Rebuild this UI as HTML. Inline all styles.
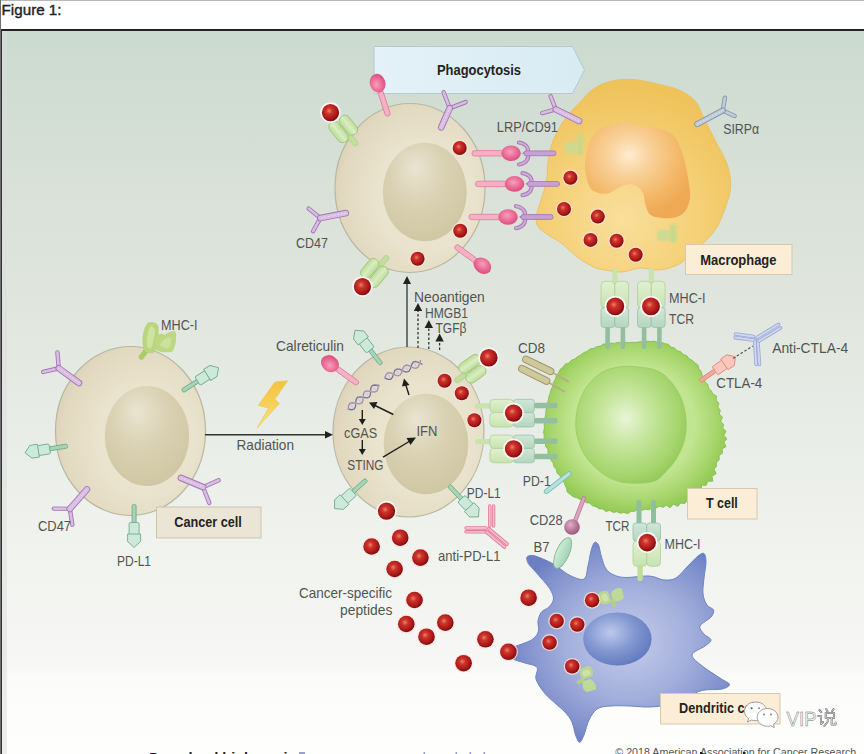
<!DOCTYPE html>
<html><head><meta charset="utf-8">
<style>
html,body{margin:0;padding:0;background:#fff;width:864px;height:754px;overflow:hidden;}
svg{display:block;font-family:"Liberation Sans",sans-serif;}
.t{font-size:14.3px;fill:#505553;}
.b{font-size:14.5px;font-weight:bold;fill:#24231f;}
</style></head>
<body>
<svg width="864" height="754" viewBox="0 0 864 754">
<defs>
<linearGradient id="bg" x1="0" y1="0" x2="0" y2="1">
<stop offset="0" stop-color="#cbdacf"/>
<stop offset="0.165" stop-color="#d6dfd6"/>
<stop offset="0.441" stop-color="#e3e8e1"/>
<stop offset="0.51" stop-color="#e6ebe5"/>
<stop offset="0.73" stop-color="#f1f3ef"/>
<stop offset="0.856" stop-color="#f6f7f4"/>
<stop offset="0.884" stop-color="#f8f8f6"/>
<stop offset="0.891" stop-color="#fbfbf9"/>
<stop offset="0.932" stop-color="#fdfdfc"/>
<stop offset="1" stop-color="#fefefd"/>
</linearGradient>
<radialGradient id="cellG" cx="0.6" cy="0.55" r="0.62">
<stop offset="0" stop-color="#efe9d7"/>
<stop offset="0.55" stop-color="#e9e2cc"/>
<stop offset="0.9" stop-color="#e1d8bf"/>
<stop offset="1" stop-color="#dcd2b8"/>
</radialGradient>
<radialGradient id="nucG" cx="0.45" cy="0.35" r="0.75" fx="0.38" fy="0.25">
<stop offset="0" stop-color="#e9e4d2"/>
<stop offset="0.45" stop-color="#d9d1b2"/>
<stop offset="1" stop-color="#cdc4a0"/>
</radialGradient>
<radialGradient id="macG" cx="0.45" cy="0.72" r="0.7">
<stop offset="0" stop-color="#f9df9c"/>
<stop offset="0.55" stop-color="#f5d077"/>
<stop offset="1" stop-color="#efc25a"/>
</radialGradient>
<radialGradient id="macN" cx="0.42" cy="0.34" r="0.66">
<stop offset="0" stop-color="#feeccf"/>
<stop offset="0.3" stop-color="#f9d29c"/>
<stop offset="0.7" stop-color="#f4b96a"/>
<stop offset="1" stop-color="#efa853"/>
</radialGradient>
<radialGradient id="tG" cx="0.49" cy="0.48" r="0.52">
<stop offset="0" stop-color="#c6e69a"/>
<stop offset="0.64" stop-color="#c2e592"/>
<stop offset="0.86" stop-color="#a8d66d"/>
<stop offset="1" stop-color="#94ca55"/>
</radialGradient>
<radialGradient id="tN" cx="0.45" cy="0.45" r="0.6">
<stop offset="0" stop-color="#e8f5d8"/>
<stop offset="0.35" stop-color="#c8e7a0"/>
<stop offset="0.8" stop-color="#a6d56e"/>
<stop offset="1" stop-color="#93c858"/>
</radialGradient>
<radialGradient id="dG" cx="0.55" cy="0.5" r="0.55">
<stop offset="0" stop-color="#c6cdea"/>
<stop offset="0.5" stop-color="#a3afdc"/>
<stop offset="0.85" stop-color="#8090cc"/>
<stop offset="1" stop-color="#6b7fc2"/>
</radialGradient>
<radialGradient id="dN" cx="0.4" cy="0.38" r="0.68">
<stop offset="0" stop-color="#bcc8ec"/>
<stop offset="0.55" stop-color="#8095d0"/>
<stop offset="1" stop-color="#5f77bd"/>
</radialGradient>
<radialGradient id="red" cx="0.42" cy="0.4" r="0.6">
<stop offset="0" stop-color="#ee8068"/>
<stop offset="0.3" stop-color="#cc342c"/>
<stop offset="0.75" stop-color="#aa1818"/>
<stop offset="1" stop-color="#800c0c"/>
</radialGradient>
<radialGradient id="pinkG" cx="0.45" cy="0.4" r="0.6">
<stop offset="0" stop-color="#f6a0be"/>
<stop offset="0.6" stop-color="#ea6a96"/>
<stop offset="1" stop-color="#d9507e"/>
</radialGradient>
<linearGradient id="mhcG" x1="0" y1="0" x2="0" y2="1">
<stop offset="0" stop-color="#e0f0d0"/><stop offset="1" stop-color="#c8e3b0"/></linearGradient>
<linearGradient id="tcrG" x1="0" y1="0" x2="0" y2="1">
<stop offset="0" stop-color="#d0e7d8"/><stop offset="1" stop-color="#b4d6c0"/></linearGradient>
<linearGradient id="boltG" x1="0" y1="0" x2="0" y2="1">
<stop offset="0" stop-color="#f4c23a"/><stop offset="0.5" stop-color="#f7cf50"/><stop offset="1" stop-color="#f8e690"/></linearGradient>
<radialGradient id="cd28G" cx="0.4" cy="0.35" r="0.65">
<stop offset="0" stop-color="#e0b0c8"/><stop offset="0.6" stop-color="#b87898"/><stop offset="1" stop-color="#9a5a7c"/></radialGradient>
<linearGradient id="b7G" x1="0" y1="0" x2="0" y2="1">
<stop offset="0" stop-color="#d0ecd8"/><stop offset="1" stop-color="#a2d2b4"/></linearGradient>
<linearGradient id="phG" x1="0" y1="0" x2="1" y2="0">
<stop offset="0" stop-color="#e4f1f8"/><stop offset="1" stop-color="#d8ebf3"/></linearGradient>
<linearGradient id="mhcL" x1="0" y1="0" x2="0" y2="1">
<stop offset="0" stop-color="#bedb98"/><stop offset="0.5" stop-color="#d9edc2"/><stop offset="1" stop-color="#bedb98"/></linearGradient>
<filter id="blur05"><feGaussianBlur stdDeviation="0.5"/></filter>
<filter id="blur1"><feGaussianBlur stdDeviation="0.8"/></filter>
</defs>

<rect x="0" y="0" width="864" height="754" fill="#fff"/>
<rect x="0" y="0" width="864" height="1" fill="#b8b8b8"/>
<text x="1.6" y="15.2" font-size="15.2" fill="#1e1e1e" stroke="#1e1e1e" stroke-width="0.4">Figure 1:</text>
<rect x="0" y="31" width="864" height="723" fill="url(#bg)"/>
<rect x="2" y="31" width="5" height="723" fill="#dcdedb" opacity="0.5"/>
<rect x="0" y="29" width="864" height="2" fill="#222"/>
<rect x="0" y="0" width="1" height="754" fill="#6e6e6e"/>
<rect x="1" y="29" width="1" height="725" fill="#333"/>
<!-- banner -->
<path d="M374 46.5 L572.5 46.5 L584.5 70 L572.5 93.5 L374 93.5 Z" fill="url(#phG)" stroke="#b8c8ce" stroke-width="1"/>
<text x="437" y="74.6" class="b" textLength="84" lengthAdjust="spacingAndGlyphs">Phagocytosis</text>
<!-- ===== Upper cancer cell ===== -->
<ellipse cx="410" cy="188" rx="75" ry="84.5" fill="url(#cellG)" stroke="#b9b7a0" stroke-width="1.2"/>
<ellipse cx="424.8" cy="192" rx="42" ry="49.3" fill="url(#nucG)"/>
<!-- ===== Center cancer cell ===== -->
<ellipse cx="408.5" cy="432" rx="75.5" ry="85" fill="url(#cellG)" stroke="#b9b7a0" stroke-width="1.2"/>
<ellipse cx="426" cy="444" rx="42.3" ry="50.3" fill="url(#nucG)"/>
<!-- ===== Left cancer cell ===== -->
<ellipse cx="130.5" cy="431" rx="75" ry="84.5" fill="url(#cellG)" stroke="#b9b7a0" stroke-width="1.2"/>
<ellipse cx="147" cy="436" rx="42.2" ry="50" fill="url(#nucG)"/>

<!-- ===== Macrophage ===== -->
<path d="M577.8 104.6 C581.5 100.9 587.9 92.7 593.7 88.7 C599.5 84.7 605.9 82.2 612.8 80.7 C619.7 79.2 627.6 79.2 635.0 79.7 C642.4 80.2 649.9 82.2 657.3 83.9 C664.7 85.7 673.2 87.3 679.6 90.2 C686.0 93.1 691.5 96.9 695.5 101.4 C699.5 105.9 700.3 110.9 703.5 117.3 C706.7 123.7 710.7 131.7 714.7 139.6 C718.7 147.5 724.8 157.1 727.4 165.0 C730.0 172.9 730.9 180.4 730.6 187.3 C730.3 194.2 727.9 200.0 725.8 206.4 C723.7 212.8 720.7 220.2 717.8 225.5 C714.9 230.8 712.1 234.2 708.3 238.3 C704.5 242.4 699.8 245.8 695.0 250.0 C690.2 254.2 685.4 260.5 679.6 263.8 C673.8 267.1 666.6 269.3 660.0 270.0 C653.4 270.7 646.3 267.7 640.0 268.0 C633.7 268.3 627.8 271.7 622.0 272.0 C616.2 272.3 609.7 270.8 605.0 270.0 C600.3 269.2 598.2 269.1 593.7 267.0 C589.2 264.9 583.1 261.3 577.8 257.4 C572.5 253.5 566.6 247.2 561.8 243.5 C557.0 239.8 553.0 238.3 549.0 235.5 C545.0 232.7 540.1 229.8 538.0 226.5 C535.9 223.2 535.9 220.4 536.4 216.0 C536.9 211.6 539.3 205.8 541.0 200.0 C542.7 194.2 545.3 187.3 546.5 181.0 C547.7 174.7 547.0 168.4 548.0 162.0 C549.0 155.6 550.0 149.2 552.3 142.8 C554.6 136.4 558.6 129.0 561.8 123.7 C565.0 118.4 568.7 114.2 571.4 111.0 C574.1 107.8 574.1 108.3 577.8 104.6 Z" fill="url(#macG)" stroke="#ecbd55" stroke-width="0.8"/>
<path d="M593.0 136.0 C595.5 132.8 597.5 129.2 603.0 127.0 C608.5 124.8 619.8 122.7 626.0 122.5 C632.2 122.3 634.2 124.9 640.0 126.0 C645.8 127.1 655.0 127.3 660.7 129.0 C666.4 130.7 670.5 132.2 674.0 136.0 C677.5 139.8 679.8 146.0 682.0 152.0 C684.2 158.0 685.7 164.7 687.0 172.0 C688.3 179.3 690.2 189.7 690.0 196.0 C689.8 202.3 688.2 206.5 686.0 210.0 C683.8 213.5 680.6 215.7 676.6 217.0 C672.6 218.3 666.4 218.4 662.0 218.0 C657.6 217.6 652.8 217.1 650.0 214.6 C647.2 212.1 646.2 206.6 645.0 203.0 C643.8 199.4 644.7 196.0 643.0 193.0 C641.3 190.0 638.2 186.3 635.0 185.0 C631.8 183.7 628.1 184.0 623.6 185.4 C619.1 186.8 612.3 192.3 607.7 193.4 C603.1 194.5 599.1 193.3 596.0 192.0 C592.9 190.7 590.8 189.6 589.0 185.4 C587.2 181.2 585.2 173.6 585.0 167.0 C584.8 160.4 586.7 151.2 588.0 146.0 C589.3 140.8 590.5 139.2 593.0 136.0 Z" fill="url(#macN)"/>

<!-- ===== T cell ===== -->
<path d="M610.8 343.1 L614.4 343.4 L618.0 342.4 L621.6 343.0 L625.2 342.2 L628.8 342.8 L632.4 342.3 L636.1 342.5 L639.6 341.8 L643.3 341.9 L646.8 341.3 L650.5 341.6 L654.1 341.2 L657.6 342.3 L661.3 342.3 L664.7 343.6 L668.3 344.3 L670.9 347.0 L674.5 348.1 L677.1 350.8 L680.8 351.7 L683.2 354.6 L686.8 355.7 L689.1 358.8 L692.4 360.4 L695.0 362.9 L698.0 365.1 L698.9 368.8 L701.4 371.6 L701.9 375.3 L704.9 378.0 L704.9 381.9 L707.8 384.4 L708.5 388.2 L711.2 390.7 L712.8 394.0 L716.4 396.0 L716.2 400.2 L718.8 403.2 L717.8 407.1 L720.4 410.4 L719.2 414.2 L722.5 417.1 L720.6 421.4 L723.5 424.3 L722.8 428.2 L726.0 431.2 L723.8 435.2 L726.9 438.9 L723.8 442.1 L726.0 446.5 L722.0 449.1 L722.6 453.1 L719.0 455.6 L719.3 459.7 L716.4 462.4 L716.5 466.2 L714.0 469.3 L716.2 473.7 L712.0 476.1 L712.8 481.2 L707.8 481.2 L706.1 485.3 L701.5 485.2 L701.5 489.7 L697.3 491.2 L697.4 496.0 L692.3 496.2 L691.6 500.8 L687.2 500.8 L684.5 503.6 L680.6 503.0 L677.7 506.5 L673.6 504.0 L670.2 507.7 L666.5 505.2 L663.2 507.3 L659.2 506.1 L656.0 508.2 L652.3 508.0 L648.9 509.8 L645.2 509.3 L641.7 510.3 L638.0 509.4 L634.6 511.3 L630.9 511.4 L627.8 513.6 L623.9 512.5 L620.3 513.2 L616.9 511.7 L613.2 512.5 L609.8 510.4 L606.0 511.5 L602.8 509.0 L599.1 508.8 L596.1 506.7 L592.5 505.7 L589.8 503.2 L586.0 502.6 L583.2 500.2 L579.7 499.2 L576.4 497.6 L572.9 496.7 L570.1 494.3 L567.2 492.0 L566.5 488.3 L565.0 485.0 L563.7 481.7 L561.2 478.9 L559.9 475.5 L557.0 473.0 L556.3 469.3 L553.9 466.4 L553.1 462.8 L550.8 459.9 L550.1 456.3 L548.0 453.2 L547.9 449.4 L545.6 446.3 L545.7 442.5 L544.1 439.2 L544.2 435.5 L543.6 431.9 L544.4 428.3 L544.3 424.7 L545.0 421.2 L545.0 417.5 L545.9 414.0 L545.9 410.3 L546.9 406.9 L547.4 403.3 L548.4 399.8 L549.0 396.2 L550.3 392.8 L551.1 389.3 L552.9 386.1 L553.3 382.4 L555.3 379.3 L556.3 375.8 L558.5 372.9 L560.0 369.5 L562.9 367.2 L565.1 364.2 L568.8 363.1 L571.3 360.3 L574.8 359.1 L577.5 356.7 L580.7 355.0 L583.5 352.7 L587.0 351.4 L589.8 349.0 L593.5 348.4 L596.8 346.7 L600.4 346.1 L603.5 344.1 L607.2 344.0 Z" fill="url(#tG)" stroke="#86bf4c" stroke-width="0.9" stroke-linejoin="round"/>
<path d="M630.7 366.3 C637.1 366.7 648.2 367.6 654.6 369.8 C661.0 372.0 664.5 374.8 668.9 379.4 C673.3 384.0 677.9 390.7 680.8 397.3 C683.6 403.9 685.4 411.7 686.0 418.8 C686.6 425.9 686.1 433.4 684.4 440.2 C682.7 446.9 679.4 453.7 676.0 459.3 C672.6 464.9 667.6 470.0 664.1 473.6 C660.6 477.2 659.0 479.2 655.0 480.8 C651.0 482.4 645.9 483.0 640.2 483.2 C634.6 483.4 627.1 483.4 621.1 482.0 C615.1 480.6 610.0 478.6 604.4 474.8 C598.8 471.0 592.1 465.1 587.7 459.3 C583.3 453.5 580.2 446.6 578.2 440.2 C576.2 433.8 575.6 427.5 575.8 421.1 C576.0 414.7 577.4 408.0 579.4 402.0 C581.4 396.0 583.9 390.3 587.7 385.3 C591.5 380.3 597.2 375.2 602.0 372.2 C606.8 369.2 611.6 368.4 616.4 367.4 C621.2 366.4 624.3 365.9 630.7 366.3 Z" fill="url(#tN)" stroke="#98cb5e" stroke-width="0.8"/>

<!-- ===== Dendritic cell ===== -->
<path d="M527.0 557.0 C527.8 555.8 530.3 555.2 533.0 555.5 C535.7 555.8 539.5 557.5 543.0 559.0 C546.5 560.5 549.5 561.8 554.0 564.5 C558.5 567.2 565.0 573.1 570.0 575.5 C575.0 577.9 581.0 580.6 584.0 579.0 C587.0 577.4 586.8 570.7 588.0 566.0 C589.2 561.3 589.9 554.9 591.0 551.0 C592.1 547.1 593.2 543.5 594.5 542.5 C595.8 541.5 597.3 542.6 598.5 545.0 C599.7 547.4 600.2 553.0 601.5 557.0 C602.8 561.0 603.9 566.0 606.0 569.0 C608.1 572.0 610.7 573.6 614.0 575.0 C617.3 576.4 619.7 577.3 625.6 577.5 C631.5 577.7 643.0 575.6 649.4 576.0 C655.8 576.4 659.6 579.7 664.0 580.0 C668.4 580.3 672.2 580.2 676.0 578.0 C679.8 575.8 683.3 570.7 687.0 567.0 C690.7 563.3 695.2 558.2 698.0 556.0 C700.8 553.8 702.7 552.5 704.0 553.5 C705.3 554.5 706.0 557.9 706.0 562.0 C706.0 566.1 704.5 572.7 704.0 578.0 C703.5 583.3 702.5 589.5 703.0 594.0 C703.5 598.5 705.2 602.3 707.0 605.0 C708.8 607.7 712.8 608.0 713.5 610.0 C714.2 612.0 713.2 614.3 711.0 617.0 C708.8 619.7 701.2 623.2 700.0 626.0 C698.8 628.8 702.2 631.7 704.0 634.0 C705.8 636.3 710.8 638.0 711.0 640.0 C711.2 642.0 708.2 643.5 705.0 646.0 C701.8 648.5 692.3 651.6 692.0 655.0 C691.7 658.4 698.2 662.7 703.0 666.6 C707.8 670.5 716.3 675.5 720.7 678.5 C725.1 681.5 729.3 682.6 729.5 684.4 C729.7 686.1 726.5 688.0 722.0 689.0 C717.5 690.0 708.5 689.1 702.8 690.3 C697.1 691.5 693.5 694.0 688.0 696.3 C682.5 698.6 676.3 702.2 670.0 704.0 C663.7 705.8 656.7 706.7 650.0 707.0 C643.3 707.3 636.7 706.2 630.0 706.0 C623.3 705.8 615.5 705.5 610.0 706.0 C604.5 706.5 600.5 706.7 597.0 709.0 C593.5 711.3 591.2 715.7 589.0 720.0 C586.8 724.3 585.6 731.3 584.0 735.0 C582.4 738.7 581.0 742.3 579.6 742.3 C578.2 742.3 576.8 738.4 575.5 735.0 C574.2 731.6 573.8 725.8 572.0 722.0 C570.2 718.2 567.4 714.8 565.0 712.0 C562.6 709.2 560.8 708.4 557.4 705.2 C554.0 702.0 548.1 697.4 544.5 693.0 C540.9 688.6 537.2 683.2 536.0 679.0 C534.8 674.8 538.8 670.2 537.0 667.5 C535.2 664.8 529.0 664.4 525.0 663.0 C521.0 661.6 516.5 660.8 513.0 659.0 C509.5 657.2 504.2 654.4 504.0 652.5 C503.8 650.6 509.0 648.9 512.0 647.5 C515.0 646.1 518.5 645.4 522.0 644.0 C525.5 642.6 530.2 641.2 533.0 639.0 C535.8 636.8 537.7 634.0 538.5 631.0 C539.3 628.0 537.5 624.2 538.0 621.0 C538.5 617.8 539.7 614.3 541.5 612.0 C543.3 609.7 547.0 609.2 549.0 607.0 C551.0 604.8 553.3 602.0 553.5 599.0 C553.7 596.0 552.1 592.5 550.0 589.0 C547.9 585.5 543.8 581.3 541.0 578.0 C538.2 574.7 535.2 571.5 533.0 569.0 C530.8 566.5 529.0 565.0 528.0 563.0 C527.0 561.0 526.2 558.2 527.0 557.0 Z" fill="url(#dG)" stroke="#6f82c4" stroke-width="1"/>
<ellipse cx="617.4" cy="639" rx="34.2" ry="26.6" fill="url(#dN)"/>

<!-- ====== receptors: upper cell ====== -->
<g transform="translate(388.3,116.0) rotate(-108.0)"><rect x="0" y="-2.6" width="27" height="5.2" rx="2.4" fill="#f6b0c6" stroke="#e0849f" stroke-width="0.9"/><ellipse cx="34.5" cy="0" rx="9.5" ry="7.8" fill="url(#pinkG)"/></g>
<line x1="450.7" y1="107.9" x2="465.6" y2="102.1" stroke="#a277b4" stroke-width="4.4" stroke-linecap="round"/><line x1="450.7" y1="107.9" x2="465.6" y2="102.1" stroke="#d9bde2" stroke-width="2.6" stroke-linecap="round"/><line x1="449.4" y1="107.3" x2="443.6" y2="92.3" stroke="#a277b4" stroke-width="4.4" stroke-linecap="round"/><line x1="449.4" y1="107.3" x2="443.6" y2="92.3" stroke="#d9bde2" stroke-width="2.6" stroke-linecap="round"/><line x1="441.2" y1="127.4" x2="449.7" y2="108.2" stroke="#a277b4" stroke-width="6.6" stroke-linecap="round"/><line x1="441.2" y1="127.4" x2="449.7" y2="108.2" stroke="#d9bde2" stroke-width="4.8" stroke-linecap="round"/><line x1="441.2" y1="127.4" x2="449.7" y2="108.2" stroke="#f3e6f6" stroke-width="0.9" stroke-dasharray="1.6 1.8" opacity="0.9"/>
<line x1="319.6" y1="217.4" x2="308.7" y2="208.6" stroke="#a277b4" stroke-width="4.4" stroke-linecap="round"/><line x1="319.6" y1="217.4" x2="308.7" y2="208.6" stroke="#d9bde2" stroke-width="2.6" stroke-linecap="round"/><line x1="319.9" y1="218.9" x2="313.1" y2="231.2" stroke="#a277b4" stroke-width="4.4" stroke-linecap="round"/><line x1="319.9" y1="218.9" x2="313.1" y2="231.2" stroke="#d9bde2" stroke-width="2.6" stroke-linecap="round"/><line x1="345.9" y1="213.1" x2="320.4" y2="218.1" stroke="#a277b4" stroke-width="6.6" stroke-linecap="round"/><line x1="345.9" y1="213.1" x2="320.4" y2="218.1" stroke="#d9bde2" stroke-width="4.8" stroke-linecap="round"/><line x1="345.9" y1="213.1" x2="320.4" y2="218.1" stroke="#f3e6f6" stroke-width="0.9" stroke-dasharray="1.6 1.8" opacity="0.9"/>
<g transform="translate(455.3,246.0) rotate(36.0)"><rect x="0" y="-2.6" width="26" height="5.2" rx="2.4" fill="#f6b0c6" stroke="#e0849f" stroke-width="0.9"/><ellipse cx="33.5" cy="0" rx="9.5" ry="7.5" fill="url(#pinkG)"/></g>
<!-- MHC-I top-left loaded -->
<g transform="translate(356.4,144.5) rotate(-129.0)"><rect x="-1" y="-2.6" width="13" height="5.2" rx="2.2" fill="#c2dd9e" stroke="#a9cf84" stroke-width="0.6"/><rect x="9" y="-11.5" width="24" height="11" rx="5" fill="url(#mhcL)" stroke="#9fc67a" stroke-width="0.9"/><rect x="9" y="0.5" width="22" height="11" rx="5" fill="url(#mhcL)" stroke="#9fc67a" stroke-width="0.9"/></g>
<circle cx="330.5" cy="112.6" r="10.4" fill="#fff5f2"/><circle cx="330.5" cy="112.6" r="8.6" fill="url(#red)"/>
<!-- MHC-I bottom-left loaded -->
<g transform="translate(387.2,256.8) rotate(129.7)"><rect x="-1" y="-2.6" width="13" height="5.2" rx="2.2" fill="#c2dd9e" stroke="#a9cf84" stroke-width="0.6"/><rect x="9" y="-11.5" width="24" height="11" rx="5" fill="url(#mhcL)" stroke="#9fc67a" stroke-width="0.9"/><rect x="9" y="0.5" width="22" height="11" rx="5" fill="url(#mhcL)" stroke="#9fc67a" stroke-width="0.9"/></g>
<circle cx="362.4" cy="286.7" r="10.4" fill="#fff5f2"/><circle cx="362.4" cy="286.7" r="8.6" fill="url(#red)"/>
<circle cx="459.7" cy="148.0" r="8.3" fill="#fbe6e2" opacity="0.75"/><circle cx="459.7" cy="148.0" r="7.0" fill="url(#red)"/>
<circle cx="460.2" cy="230.8" r="8.3" fill="#fbe6e2" opacity="0.75"/><circle cx="460.2" cy="230.8" r="7.0" fill="url(#red)"/>
<circle cx="417.6" cy="258.8" r="8.3" fill="#fbe6e2" opacity="0.75"/><circle cx="417.6" cy="258.8" r="7.0" fill="url(#red)"/>

<!-- calreticulin - LRP complexes -->
<g id="lrp1">
<rect x="472" y="150.6" width="32" height="5.4" rx="2.5" fill="#f6b0c6" stroke="#e0849f" stroke-width="0.9"/>
<path d="M519 142.5 C528 144 530 151 526 153.3 C530 156 528 163 519 164.5" fill="none" stroke="#a67bb5" stroke-width="4.2" stroke-linecap="round"/>
<path d="M519 142.5 C528 144 530 151 526 153.3 C530 156 528 163 519 164.5" fill="none" stroke="#cfa9da" stroke-width="2.2" stroke-linecap="round"/>
<rect x="524" y="150.9" width="32" height="4.8" rx="2.2" fill="#c9a0d6" stroke="#a67bb5" stroke-width="0.9"/>
<ellipse cx="511" cy="153.3" rx="9.8" ry="7.8" fill="url(#pinkG)"/>
</g>
<g transform="translate(3.5,30.6)">
<rect x="472" y="150.6" width="32" height="5.4" rx="2.5" fill="#f6b0c6" stroke="#e0849f" stroke-width="0.9"/>
<path d="M519 142.5 C528 144 530 151 526 153.3 C530 156 528 163 519 164.5" fill="none" stroke="#a67bb5" stroke-width="4.2" stroke-linecap="round"/>
<path d="M519 142.5 C528 144 530 151 526 153.3 C530 156 528 163 519 164.5" fill="none" stroke="#cfa9da" stroke-width="2.2" stroke-linecap="round"/>
<rect x="524" y="150.9" width="32" height="4.8" rx="2.2" fill="#c9a0d6" stroke="#a67bb5" stroke-width="0.9"/>
<ellipse cx="511" cy="153.3" rx="9.8" ry="7.8" fill="url(#pinkG)"/>
</g>
<g transform="translate(-3,63.7)">
<rect x="472" y="150.6" width="32" height="5.4" rx="2.5" fill="#f6b0c6" stroke="#e0849f" stroke-width="0.9"/>
<path d="M519 142.5 C528 144 530 151 526 153.3 C530 156 528 163 519 164.5" fill="none" stroke="#a67bb5" stroke-width="4.2" stroke-linecap="round"/>
<path d="M519 142.5 C528 144 530 151 526 153.3 C530 156 528 163 519 164.5" fill="none" stroke="#cfa9da" stroke-width="2.2" stroke-linecap="round"/>
<rect x="524" y="150.9" width="32" height="4.8" rx="2.2" fill="#c9a0d6" stroke="#a67bb5" stroke-width="0.9"/>
<ellipse cx="511" cy="153.3" rx="9.8" ry="7.8" fill="url(#pinkG)"/>
</g>

<!-- ====== macrophage contents ====== -->
<line x1="555.4" y1="108.4" x2="550.6" y2="96.3" stroke="#a277b4" stroke-width="4.4" stroke-linecap="round"/><line x1="555.4" y1="108.4" x2="550.6" y2="96.3" stroke="#d9bde2" stroke-width="2.6" stroke-linecap="round"/><line x1="554.8" y1="109.6" x2="542.3" y2="113.1" stroke="#a277b4" stroke-width="4.4" stroke-linecap="round"/><line x1="554.8" y1="109.6" x2="542.3" y2="113.1" stroke="#d9bde2" stroke-width="2.6" stroke-linecap="round"/><line x1="579.0" y1="121.0" x2="555.8" y2="109.4" stroke="#a277b4" stroke-width="6.6" stroke-linecap="round"/><line x1="579.0" y1="121.0" x2="555.8" y2="109.4" stroke="#d9bde2" stroke-width="4.8" stroke-linecap="round"/><line x1="579.0" y1="121.0" x2="555.8" y2="109.4" stroke="#f3e6f6" stroke-width="0.9" stroke-dasharray="1.6 1.8" opacity="0.9"/>
<line x1="723.7" y1="111.0" x2="734.6" y2="116.0" stroke="#8898aa" stroke-width="4.4" stroke-linecap="round"/><line x1="723.7" y1="111.0" x2="734.6" y2="116.0" stroke="#c2ccd8" stroke-width="2.6" stroke-linecap="round"/><line x1="723.0" y1="109.5" x2="724.9" y2="97.7" stroke="#8898aa" stroke-width="4.4" stroke-linecap="round"/><line x1="723.0" y1="109.5" x2="724.9" y2="97.7" stroke="#c2ccd8" stroke-width="2.6" stroke-linecap="round"/><line x1="697.2" y1="124.1" x2="722.8" y2="110.5" stroke="#8898aa" stroke-width="6.0" stroke-linecap="round"/><line x1="697.2" y1="124.1" x2="722.8" y2="110.5" stroke="#c2ccd8" stroke-width="4.2" stroke-linecap="round"/><line x1="697.2" y1="124.1" x2="722.8" y2="110.5" stroke="#e6ecf2" stroke-width="0.9" stroke-dasharray="1.6 1.8" opacity="0.9"/>
<g opacity="0.8" filter="url(#blur1)">
<rect x="577" y="134" width="6.5" height="21" rx="3" fill="#c0d98e"/>
<rect x="565" y="142" width="13" height="11.5" rx="3" fill="#c4dc94"/>
<rect x="670" y="224" width="6.5" height="19" rx="3" fill="#c0d98e"/>
<rect x="657" y="230" width="14" height="11" rx="3" fill="#c4dc94"/>
</g>
<circle cx="570.4" cy="177.8" r="8.3" fill="#fbe6e2" opacity="0.75"/><circle cx="570.4" cy="177.8" r="7.0" fill="url(#red)"/>
<circle cx="564.0" cy="209.0" r="8.3" fill="#fbe6e2" opacity="0.75"/><circle cx="564.0" cy="209.0" r="7.0" fill="url(#red)"/>
<circle cx="597.8" cy="216.6" r="8.3" fill="#fbe6e2" opacity="0.75"/><circle cx="597.8" cy="216.6" r="7.0" fill="url(#red)"/>
<circle cx="590.5" cy="239.9" r="8.3" fill="#fbe6e2" opacity="0.75"/><circle cx="590.5" cy="239.9" r="7.0" fill="url(#red)"/>
<circle cx="616.6" cy="240.8" r="8.3" fill="#fbe6e2" opacity="0.75"/><circle cx="616.6" cy="240.8" r="7.0" fill="url(#red)"/>
<circle cx="635.7" cy="254.8" r="8.3" fill="#fbe6e2" opacity="0.75"/><circle cx="635.7" cy="254.8" r="7.0" fill="url(#red)"/>

<!-- ====== center cell ====== -->
<g transform="translate(358.0,383.8) rotate(-144.3)"><rect x="0" y="-2.6" width="27" height="5.2" rx="2.4" fill="#f6b0c6" stroke="#e0849f" stroke-width="0.9"/><ellipse cx="34.5" cy="0" rx="9.5" ry="8" fill="url(#pinkG)"/></g>
<g transform="translate(381.3,364.3) rotate(-127.7)"><rect x="0" y="-2" width="19" height="4" rx="1.5" fill="#a3d5b6" stroke="#74ad8c" stroke-width="0.9"/><rect x="18" y="-5" width="12" height="10" rx="1.5" fill="#cde9d9" stroke="#74ad8c" stroke-width="0.9"/><path d="M29.5 -6.5 L37 -6.5 L43 0 L37 6.5 L29.5 6.5 Z" fill="#cde9d9" stroke="#74ad8c" stroke-width="0.9" stroke-linejoin="round"/></g>
<g transform="translate(366.4,479.7) rotate(137.8)"><rect x="0" y="-2" width="19" height="4" rx="1.5" fill="#a3d5b6" stroke="#74ad8c" stroke-width="0.9"/><rect x="18" y="-5" width="12" height="10" rx="1.5" fill="#cde9d9" stroke="#74ad8c" stroke-width="0.9"/><path d="M29.5 -6.5 L37 -6.5 L43 0 L37 6.5 L29.5 6.5 Z" fill="#cde9d9" stroke="#74ad8c" stroke-width="0.9" stroke-linejoin="round"/></g>
<g transform="translate(449.0,485.6) rotate(46.7)"><rect x="0" y="-2" width="19" height="4" rx="1.5" fill="#a3d5b6" stroke="#74ad8c" stroke-width="0.9"/><rect x="18" y="-5" width="12" height="10" rx="1.5" fill="#cde9d9" stroke="#74ad8c" stroke-width="0.9"/><path d="M29.5 -6.5 L37 -6.5 L43 0 L37 6.5 L29.5 6.5 Z" fill="#cde9d9" stroke="#74ad8c" stroke-width="0.9" stroke-linejoin="round"/></g>
<!-- MHC-I top-right loaded -->
<g transform="translate(456.0,381.0) rotate(-35.3)"><rect x="-1" y="-2.6" width="13" height="5.2" rx="2.2" fill="#c2dd9e" stroke="#a9cf84" stroke-width="0.6"/><rect x="9" y="-11.5" width="24" height="11" rx="5" fill="url(#mhcL)" stroke="#9fc67a" stroke-width="0.9"/><rect x="9" y="0.5" width="22" height="11" rx="5" fill="url(#mhcL)" stroke="#9fc67a" stroke-width="0.9"/></g>
<circle cx="488.8" cy="357.8" r="10.6" fill="#fff5f2"/><circle cx="488.8" cy="357.8" r="8.8" fill="url(#red)"/>
<circle cx="444.6" cy="380.8" r="8.3" fill="#fbe6e2" opacity="0.75"/><circle cx="444.6" cy="380.8" r="7.0" fill="url(#red)"/>
<circle cx="461.8" cy="393.2" r="8.3" fill="#fbe6e2" opacity="0.75"/><circle cx="461.8" cy="393.2" r="7.0" fill="url(#red)"/>
<circle cx="474.4" cy="420.3" r="8.3" fill="#fbe6e2" opacity="0.75"/><circle cx="474.4" cy="420.3" r="7.0" fill="url(#red)"/>
<circle cx="386.5" cy="511.2" r="10.4" fill="#fff5f2"/><circle cx="386.5" cy="511.2" r="8.6" fill="url(#red)"/>

<!-- horizontal MHC-I / TCR complexes -->
<g transform="translate(0,0)"><rect x="475" y="403.3" width="17" height="5.2" rx="2" fill="#c9e2ae"/><rect x="489.9" y="399.3" width="23.7" height="13.3" rx="4" fill="url(#mhcG)" stroke="#b0d196" stroke-width="0.8"/><rect x="489.9" y="412.6" width="23.7" height="14.4" rx="4" fill="url(#mhcG)" stroke="#b0d196" stroke-width="0.8"/><rect x="513.6" y="399.3" width="20.8" height="13.3" rx="3" fill="url(#tcrG)" stroke="#98c0a8" stroke-width="0.8"/><rect x="513.6" y="412.6" width="20.8" height="14.4" rx="3" fill="url(#tcrG)" stroke="#98c0a8" stroke-width="0.8"/><rect x="534" y="402.8" width="23.6" height="5.4" rx="2" fill="#93bea0"/><rect x="534" y="418" width="23.6" height="5.4" rx="2" fill="#93bea0"/></g>
<circle cx="513.6" cy="413.1" r="10.5" fill="#fff5f2"/><circle cx="513.6" cy="413.1" r="8.7" fill="url(#red)"/>
<g transform="translate(0,35.8)"><rect x="475" y="403.3" width="17" height="5.2" rx="2" fill="#c9e2ae"/><rect x="489.9" y="399.3" width="23.7" height="13.3" rx="4" fill="url(#mhcG)" stroke="#b0d196" stroke-width="0.8"/><rect x="489.9" y="412.6" width="23.7" height="14.4" rx="4" fill="url(#mhcG)" stroke="#b0d196" stroke-width="0.8"/><rect x="513.6" y="399.3" width="20.8" height="13.3" rx="3" fill="url(#tcrG)" stroke="#98c0a8" stroke-width="0.8"/><rect x="513.6" y="412.6" width="20.8" height="14.4" rx="3" fill="url(#tcrG)" stroke="#98c0a8" stroke-width="0.8"/><rect x="534" y="402.8" width="23.6" height="5.4" rx="2" fill="#93bea0"/><rect x="534" y="418" width="23.6" height="5.4" rx="2" fill="#93bea0"/></g>
<circle cx="513.6" cy="448.9" r="10.5" fill="#fff5f2"/><circle cx="513.6" cy="448.9" r="8.7" fill="url(#red)"/>

<!-- DNA helices -->
<g transform="translate(384.8,377.9) rotate(-23.1)" fill="none" stroke-linecap="round"><rect x="0" y="-3.6" width="39.7" height="7.2" fill="#dcd8e0" opacity="0.6"/><polyline points="0.0,0.0 2.5,2.6 5.0,3.6 7.4,2.3 9.9,-0.5 12.4,-3.0 14.9,-3.5 17.4,-1.9 19.8,1.0 22.3,3.2 24.8,3.4 27.3,1.4 29.8,-1.5 32.3,-3.4 34.7,-3.2 37.2,-0.9 39.7,1.9" stroke="#77778a" stroke-width="1.3"/><polyline points="0.0,0.0 2.5,-2.6 5.0,-3.6 7.4,-2.3 9.9,0.5 12.4,3.0 14.9,3.5 17.4,1.9 19.8,-1.0 22.3,-3.2 24.8,-3.4 27.3,-1.4 29.8,1.5 32.3,3.4 34.7,3.2 37.2,0.9 39.7,-1.9" stroke="#a98ea2" stroke-width="1.3"/><line x1="0.0" y1="-1.6" x2="0.0" y2="1.6" stroke="#c0b0c8" stroke-width="0.6"/><line x1="4.8" y1="-1.6" x2="4.8" y2="1.6" stroke="#c0b0c8" stroke-width="0.6"/><line x1="9.5" y1="-1.6" x2="9.5" y2="1.6" stroke="#c0b0c8" stroke-width="0.6"/><line x1="14.2" y1="-1.6" x2="14.2" y2="1.6" stroke="#c0b0c8" stroke-width="0.6"/><line x1="19.0" y1="-1.6" x2="19.0" y2="1.6" stroke="#c0b0c8" stroke-width="0.6"/><line x1="23.8" y1="-1.6" x2="23.8" y2="1.6" stroke="#c0b0c8" stroke-width="0.6"/><line x1="28.5" y1="-1.6" x2="28.5" y2="1.6" stroke="#c0b0c8" stroke-width="0.6"/><line x1="33.2" y1="-1.6" x2="33.2" y2="1.6" stroke="#c0b0c8" stroke-width="0.6"/><line x1="38.0" y1="-1.6" x2="38.0" y2="1.6" stroke="#c0b0c8" stroke-width="0.6"/></g>
<g transform="translate(348.3,409.2) rotate(-38.5)" fill="none" stroke-linecap="round"><rect x="0" y="-3.6" width="38.6" height="7.2" fill="#dcd8e0" opacity="0.6"/><polyline points="0.0,0.0 2.4,2.6 4.8,3.6 7.2,2.5 9.6,-0.2 12.1,-2.7 14.5,-3.6 16.9,-2.3 19.3,0.3 21.7,2.8 24.1,3.6 26.5,2.2 28.9,-0.5 31.3,-2.9 33.8,-3.6 36.2,-2.1 38.6,0.7" stroke="#77778a" stroke-width="1.3"/><polyline points="0.0,0.0 2.4,-2.6 4.8,-3.6 7.2,-2.5 9.6,0.2 12.1,2.7 14.5,3.6 16.9,2.3 19.3,-0.3 21.7,-2.8 24.1,-3.6 26.5,-2.2 28.9,0.5 31.3,2.9 33.8,3.6 36.2,2.1 38.6,-0.7" stroke="#a98ea2" stroke-width="1.3"/><line x1="0.0" y1="-1.6" x2="0.0" y2="1.6" stroke="#c0b0c8" stroke-width="0.6"/><line x1="4.8" y1="-1.6" x2="4.8" y2="1.6" stroke="#c0b0c8" stroke-width="0.6"/><line x1="9.5" y1="-1.6" x2="9.5" y2="1.6" stroke="#c0b0c8" stroke-width="0.6"/><line x1="14.2" y1="-1.6" x2="14.2" y2="1.6" stroke="#c0b0c8" stroke-width="0.6"/><line x1="19.0" y1="-1.6" x2="19.0" y2="1.6" stroke="#c0b0c8" stroke-width="0.6"/><line x1="23.8" y1="-1.6" x2="23.8" y2="1.6" stroke="#c0b0c8" stroke-width="0.6"/><line x1="28.5" y1="-1.6" x2="28.5" y2="1.6" stroke="#c0b0c8" stroke-width="0.6"/><line x1="33.2" y1="-1.6" x2="33.2" y2="1.6" stroke="#c0b0c8" stroke-width="0.6"/><line x1="38.0" y1="-1.6" x2="38.0" y2="1.6" stroke="#c0b0c8" stroke-width="0.6"/></g>
<!-- arrows inside center cell -->
<g stroke="#1e1e1e" stroke-width="1.4" fill="#1e1e1e">
<line x1="393.3" y1="414.5" x2="374" y2="405"/>
<path d="M369 402.5 L377.5 402 L374 409 Z" stroke="none"/>
<line x1="409" y1="395" x2="405.5" y2="384"/>
<path d="M404 378.5 L409.5 385 L402 386.5 Z" stroke="none"/>
<line x1="362.3" y1="410" x2="362.3" y2="420"/>
<path d="M358.8 419 L365.8 419 L362.3 425 Z" stroke="none"/>
<line x1="362.3" y1="440" x2="362.3" y2="450"/>
<path d="M358.8 449 L365.8 449 L362.3 455 Z" stroke="none"/>
<line x1="383" y1="457.2" x2="410" y2="441"/>
<path d="M416 437.5 L406.5 438 L410.5 445 Z" stroke="none"/>
</g>
<!-- radiation arrow -->
<line x1="205" y1="434.8" x2="326" y2="434.8" stroke="#333" stroke-width="1.4"/>
<path d="M333 434.8 L325 431 L325 438.6 Z" fill="#222"/>
<!-- lightning -->
<path d="M275 382 L287.6 380.8 L274.8 399.3 L279.3 403.5 L257.3 427.6 L268.8 408 L258.4 405.4 L261 401.5 Z" fill="url(#boltG)" stroke="#f0c848" stroke-width="0.8" stroke-linejoin="round" opacity="0.95"/>
<!-- neoantigen arrows -->
<line x1="407" y1="347" x2="407" y2="282" stroke="#333" stroke-width="1.3"/>
<path d="M407 276 L403 284 L411 284 Z" fill="#222"/>
<line x1="418" y1="348" x2="418" y2="310" stroke="#333" stroke-width="1.3" stroke-dasharray="2.5,2"/>
<path d="M418 303 L413.8 311 L422.2 311 Z" fill="#222"/>
<line x1="428.8" y1="349" x2="428.8" y2="326" stroke="#333" stroke-width="1.3" stroke-dasharray="2.5,2"/>
<path d="M428.8 320 L424.6 328 L433 328 Z" fill="#222"/>
<line x1="439.6" y1="350" x2="439.6" y2="340" stroke="#333" stroke-width="1.3" stroke-dasharray="2.5,2"/>
<path d="M439.6 333.5 L435.4 341.5 L443.8 341.5 Z" fill="#222"/>

<!-- anti-PD-L1 antibody (pink) -->
<g>
<line x1="489.8" y1="506.0" x2="489.8" y2="526.0" stroke="#e07c9c" stroke-width="3.4" stroke-linecap="round"/><line x1="489.8" y1="506.0" x2="489.8" y2="526.0" stroke="#f6b9cb" stroke-width="1.8" stroke-linecap="round"/>
<line x1="493.6" y1="506.0" x2="493.6" y2="526.0" stroke="#e07c9c" stroke-width="3.4" stroke-linecap="round"/><line x1="493.6" y1="506.0" x2="493.6" y2="526.0" stroke="#f6b9cb" stroke-width="1.8" stroke-linecap="round"/>
<line x1="466.0" y1="528.0" x2="486.0" y2="528.0" stroke="#e07c9c" stroke-width="3.4" stroke-linecap="round"/><line x1="466.0" y1="528.0" x2="486.0" y2="528.0" stroke="#f6b9cb" stroke-width="1.8" stroke-linecap="round"/>
<line x1="466.0" y1="531.8" x2="486.0" y2="531.8" stroke="#e07c9c" stroke-width="3.4" stroke-linecap="round"/><line x1="466.0" y1="531.8" x2="486.0" y2="531.8" stroke="#f6b9cb" stroke-width="1.8" stroke-linecap="round"/>
<line x1="489.0" y1="529.0" x2="507.0" y2="544.0" stroke="#e07c9c" stroke-width="3.6" stroke-linecap="round"/><line x1="489.0" y1="529.0" x2="507.0" y2="544.0" stroke="#f6b9cb" stroke-width="2.0" stroke-linecap="round"/>
<line x1="486.5" y1="532.0" x2="504.5" y2="547.0" stroke="#e07c9c" stroke-width="3.6" stroke-linecap="round"/><line x1="486.5" y1="532.0" x2="504.5" y2="547.0" stroke="#f6b9cb" stroke-width="2.0" stroke-linecap="round"/>
</g>

<!-- peptides -->
<circle cx="400.2" cy="537.7" r="9.6" fill="#fbe6e2" opacity="0.75"/><circle cx="400.2" cy="537.7" r="8.3" fill="url(#red)"/>
<circle cx="371.6" cy="546.5" r="9.6" fill="#fbe6e2" opacity="0.75"/><circle cx="371.6" cy="546.5" r="8.3" fill="url(#red)"/>
<circle cx="420.4" cy="557.6" r="9.6" fill="#fbe6e2" opacity="0.75"/><circle cx="420.4" cy="557.6" r="8.3" fill="url(#red)"/>
<circle cx="394.6" cy="569.0" r="9.6" fill="#fbe6e2" opacity="0.75"/><circle cx="394.6" cy="569.0" r="8.3" fill="url(#red)"/>
<circle cx="414.5" cy="600.0" r="9.6" fill="#fbe6e2" opacity="0.75"/><circle cx="414.5" cy="600.0" r="8.3" fill="url(#red)"/>
<circle cx="406.3" cy="624.0" r="9.6" fill="#fbe6e2" opacity="0.75"/><circle cx="406.3" cy="624.0" r="8.3" fill="url(#red)"/>
<circle cx="445.3" cy="622.6" r="9.6" fill="#fbe6e2" opacity="0.75"/><circle cx="445.3" cy="622.6" r="8.3" fill="url(#red)"/>
<circle cx="426.5" cy="636.7" r="9.6" fill="#fbe6e2" opacity="0.75"/><circle cx="426.5" cy="636.7" r="8.3" fill="url(#red)"/>
<circle cx="485.4" cy="639.3" r="9.6" fill="#fbe6e2" opacity="0.75"/><circle cx="485.4" cy="639.3" r="8.3" fill="url(#red)"/>
<circle cx="463.6" cy="663.2" r="9.6" fill="#fbe6e2" opacity="0.75"/><circle cx="463.6" cy="663.2" r="8.3" fill="url(#red)"/>
<circle cx="528.6" cy="597.7" r="9.6" fill="#fbe6e2" opacity="0.75"/><circle cx="528.6" cy="597.7" r="8.3" fill="url(#red)"/>

<!-- ====== vertical MHC/TCR complexes macrophage -> T cell ====== -->
<g><rect x="612.2" y="268" width="5.2" height="15" rx="2" fill="#c9e2ae"/><rect x="601.0" y="281.3" width="13.8" height="27" rx="4" fill="url(#mhcG)" stroke="#b0d196" stroke-width="0.8"/><rect x="614.8" y="281.3" width="13.8" height="27" rx="4" fill="url(#mhcG)" stroke="#b0d196" stroke-width="0.8"/><rect x="601.0" y="307.5" width="13.8" height="20" rx="3" fill="url(#tcrG)" stroke="#98c0a8" stroke-width="0.8"/><rect x="614.8" y="307.5" width="13.8" height="20" rx="3" fill="url(#tcrG)" stroke="#98c0a8" stroke-width="0.8"/><rect x="605.3" y="327" width="4.6" height="22" rx="2" fill="#93bea0"/><rect x="620.6" y="327" width="4.6" height="22" rx="2" fill="#93bea0"/></g>
<g><rect x="648.7" y="268" width="5.2" height="15" rx="2" fill="#c9e2ae"/><rect x="637.5" y="281.3" width="13.8" height="27" rx="4" fill="url(#mhcG)" stroke="#b0d196" stroke-width="0.8"/><rect x="651.3" y="281.3" width="13.8" height="27" rx="4" fill="url(#mhcG)" stroke="#b0d196" stroke-width="0.8"/><rect x="637.5" y="307.5" width="13.8" height="20" rx="3" fill="url(#tcrG)" stroke="#98c0a8" stroke-width="0.8"/><rect x="651.3" y="307.5" width="13.8" height="20" rx="3" fill="url(#tcrG)" stroke="#98c0a8" stroke-width="0.8"/><rect x="641.8" y="327" width="4.6" height="22" rx="2" fill="#93bea0"/><rect x="657.1" y="327" width="4.6" height="22" rx="2" fill="#93bea0"/></g>
<circle cx="615.3" cy="306.4" r="10.7" fill="#fff5f2"/><circle cx="615.3" cy="306.4" r="8.9" fill="url(#red)"/>
<circle cx="651.0" cy="306.4" r="10.7" fill="#fff5f2"/><circle cx="651.0" cy="306.4" r="8.9" fill="url(#red)"/>

<!-- CD8 -->
<g>
<line x1="550" y1="371" x2="569" y2="382" stroke="#b5ad86" stroke-width="1.6"/>
<line x1="546" y1="381" x2="565" y2="392" stroke="#b5ad86" stroke-width="1.6"/>
<line x1="526.0" y1="359.5" x2="550.5" y2="371.3" stroke="#a0986e" stroke-width="7.8" stroke-linecap="round"/><line x1="526.0" y1="359.5" x2="550.5" y2="371.3" stroke="#cfc89a" stroke-width="5.8" stroke-linecap="round"/>
<line x1="522.0" y1="368.8" x2="546.5" y2="381.0" stroke="#a0986e" stroke-width="7.8" stroke-linecap="round"/><line x1="522.0" y1="368.8" x2="546.5" y2="381.0" stroke="#cfc89a" stroke-width="5.8" stroke-linecap="round"/>
</g>

<!-- CTLA-4 and anti-CTLA-4 -->
<g transform="translate(700.0,381.0) rotate(-34.3)"><rect x="0" y="-2" width="19" height="4" rx="1.5" fill="#f2a898" stroke="#e48c7c" stroke-width="0.9"/><rect x="18" y="-5" width="12" height="10" rx="1.5" fill="#f9c8bc" stroke="#e48c7c" stroke-width="0.9"/><path d="M29.5 -6.5 L37 -6.5 L43 0 L37 6.5 L29.5 6.5 Z" fill="#f9c8bc" stroke="#e48c7c" stroke-width="0.9" stroke-linejoin="round"/></g>
<line x1="733" y1="358.5" x2="752.8" y2="346" stroke="#555" stroke-width="1.2" stroke-dasharray="2.5,2"/>
<line x1="756.2" y1="364.4" x2="754.6" y2="340.0" stroke="#9aa8d8" stroke-width="3.6" stroke-linecap="round"/><line x1="756.2" y1="364.4" x2="754.6" y2="340.0" stroke="#cdd5f0" stroke-width="2.0" stroke-linecap="round"/>
<line x1="759.4" y1="364.4" x2="757.8" y2="340.0" stroke="#9aa8d8" stroke-width="3.6" stroke-linecap="round"/><line x1="759.4" y1="364.4" x2="757.8" y2="340.0" stroke="#cdd5f0" stroke-width="2.0" stroke-linecap="round"/>
<line x1="753.5" y1="336.5" x2="735.5" y2="334.0" stroke="#9aa8d8" stroke-width="3.6" stroke-linecap="round"/><line x1="753.5" y1="336.5" x2="735.5" y2="334.0" stroke="#cdd5f0" stroke-width="2.0" stroke-linecap="round"/>
<line x1="753.0" y1="340.0" x2="735.2" y2="337.6" stroke="#9aa8d8" stroke-width="3.6" stroke-linecap="round"/><line x1="753.0" y1="340.0" x2="735.2" y2="337.6" stroke="#cdd5f0" stroke-width="2.0" stroke-linecap="round"/>
<line x1="757.0" y1="337.5" x2="778.5" y2="324.5" stroke="#9aa8d8" stroke-width="3.6" stroke-linecap="round"/><line x1="757.0" y1="337.5" x2="778.5" y2="324.5" stroke="#cdd5f0" stroke-width="2.0" stroke-linecap="round"/>
<line x1="759.0" y1="341.0" x2="780.5" y2="328.0" stroke="#9aa8d8" stroke-width="3.6" stroke-linecap="round"/><line x1="759.0" y1="341.0" x2="780.5" y2="328.0" stroke="#cdd5f0" stroke-width="2.0" stroke-linecap="round"/>

<!-- PD-1 -->
<line x1="546.4" y1="491.5" x2="569.0" y2="473.8" stroke="#7fc0b6" stroke-width="5.2" stroke-linecap="round"/><line x1="546.4" y1="491.5" x2="569.0" y2="473.8" stroke="#b8e2dc" stroke-width="3.2" stroke-linecap="round"/>
<!-- CD28 -->
<line x1="583.8" y1="498.4" x2="575.0" y2="521.0" stroke="#c07e9c" stroke-width="4.4" stroke-linecap="round"/><line x1="583.8" y1="498.4" x2="575.0" y2="521.0" stroke="#dca6bc" stroke-width="2.6" stroke-linecap="round"/>
<circle cx="572" cy="527" r="7.8" fill="url(#cd28G)"/>
<!-- B7 -->
<g transform="translate(562.6,553) rotate(-66)">
<ellipse cx="0" cy="0" rx="16.5" ry="6.6" fill="url(#b7G)" stroke="#80b898" stroke-width="0.9"/>
</g>

<!-- bottom complex T cell -> dendritic -->
<g>
<rect x="636.5" y="500" width="5" height="24" rx="2" fill="#8fbf9d"/>
<rect x="651" y="500" width="5" height="24" rx="2" fill="#8fbf9d"/>
<rect x="633" y="523" width="13.7" height="18" rx="3" fill="url(#tcrG)" stroke="#98c0a8" stroke-width="0.8"/>
<rect x="646.7" y="523" width="13.8" height="18" rx="3" fill="url(#tcrG)" stroke="#98c0a8" stroke-width="0.8"/>
<rect x="633" y="541" width="13.7" height="25.3" rx="4" fill="url(#mhcG)" stroke="#b0d196" stroke-width="0.8"/>
<rect x="646.7" y="541" width="13.8" height="25.3" rx="4" fill="url(#mhcG)" stroke="#b0d196" stroke-width="0.8"/>
<rect x="637.4" y="565" width="5.4" height="16" rx="2" fill="#c2dc9c"/>
</g>
<circle cx="647.2" cy="542.6" r="10.6" fill="#fff5f2"/><circle cx="647.2" cy="542.6" r="8.8" fill="url(#red)"/>

<!-- dendritic contents -->
<g opacity="0.92" filter="url(#blur05)">
<g transform="translate(611,597) rotate(-20)">
<path d="M-12 -6 C-10 -9 -4 -9 -1 -6 L-1 4 C-5 6 -10 5 -12 2 Z" fill="#bcda88"/>
<path d="M1 -3 C5 -7 11 -7 13 -4 L12 5 C8 8 3 7 1 4 Z" fill="#c2de90"/>
<path d="M-9 -4 C-7 -6 -4 -6 -3 -4 L-3 2 C-6 3 -8 2 -9 1 Z" fill="#d6eab0" opacity="0.8"/>
<rect x="-2" y="3" width="4" height="8" rx="2" fill="#b4d47c"/>
</g>
<g transform="translate(587,679) rotate(70)">
<path d="M-12 -6 C-10 -9 -4 -9 -1 -6 L-1 4 C-5 6 -10 5 -12 2 Z" fill="#bcda88"/>
<path d="M1 -3 C5 -7 11 -7 13 -4 L12 5 C8 8 3 7 1 4 Z" fill="#c2de90"/>
<path d="M-9 -4 C-7 -6 -4 -6 -3 -4 L-3 2 C-6 3 -8 2 -9 1 Z" fill="#d6eab0" opacity="0.8"/>
<rect x="-2" y="3" width="4" height="8" rx="2" fill="#b4d47c"/>
</g>
</g>
<circle cx="592.1" cy="600.2" r="8.5" fill="#fbe6e2" opacity="0.75"/><circle cx="592.1" cy="600.2" r="7.2" fill="url(#red)"/>
<circle cx="556.7" cy="621.0" r="8.5" fill="#fbe6e2" opacity="0.75"/><circle cx="556.7" cy="621.0" r="7.2" fill="url(#red)"/>
<circle cx="577.3" cy="624.6" r="8.5" fill="#fbe6e2" opacity="0.75"/><circle cx="577.3" cy="624.6" r="7.2" fill="url(#red)"/>
<circle cx="549.6" cy="642.6" r="8.5" fill="#fbe6e2" opacity="0.75"/><circle cx="549.6" cy="642.6" r="7.2" fill="url(#red)"/>
<circle cx="572.2" cy="666.4" r="8.5" fill="#fbe6e2" opacity="0.75"/><circle cx="572.2" cy="666.4" r="7.2" fill="url(#red)"/>
<circle cx="508.4" cy="651.8" r="9.6" fill="#fbe6e2" opacity="0.75"/><circle cx="508.4" cy="651.8" r="8.3" fill="url(#red)"/>

<!-- ====== left cancer cell ====== -->
<g filter="url(#blur05)">
<line x1="141.5" y1="357" x2="148" y2="348" stroke="#aacb6c" stroke-width="5.5" stroke-linecap="round"/>
<path d="M143.5 349 C141 340 143 328 148 322.5 C152 321 157 322.5 158.5 326 C159 334 158 344 155 352 C151 354.5 146 353.5 143.5 349 Z" fill="#b9d57e"/>
<path d="M155.5 337 C158 333.5 162 333 165 335 C168 332 172 330.5 175.5 331.5 C177 337 176 346 172.5 351.5 C166 353 160 352.5 156 350 Z" fill="#bdd883"/>
<path d="M147 347 C146 339 147.5 331 150.5 326 C153 326 155 328 155 331 C154.5 338 153 344 151 349 Z" fill="#d2e6a6" opacity="0.8"/>
<path d="M160 346 C161 341 165 338 170 337 C172 341 171 346 168 349 Z" fill="#d2e6a6" opacity="0.7"/>
</g>
<g transform="translate(182.4,390.9) rotate(-32.7)"><rect x="0" y="-2" width="19" height="4" rx="1.5" fill="#a3d5b6" stroke="#74ad8c" stroke-width="0.9"/><rect x="18" y="-5" width="12" height="10" rx="1.5" fill="#cde9d9" stroke="#74ad8c" stroke-width="0.9"/><path d="M29.5 -6.5 L37 -6.5 L43 0 L37 6.5 L29.5 6.5 Z" fill="#cde9d9" stroke="#74ad8c" stroke-width="0.9" stroke-linejoin="round"/></g>
<g transform="translate(67.5,446.0) rotate(171.0)"><rect x="0" y="-2" width="19" height="4" rx="1.5" fill="#a3d5b6" stroke="#74ad8c" stroke-width="0.9"/><rect x="18" y="-5" width="12" height="10" rx="1.5" fill="#cde9d9" stroke="#74ad8c" stroke-width="0.9"/><path d="M29.5 -6.5 L37 -6.5 L43 0 L37 6.5 L29.5 6.5 Z" fill="#cde9d9" stroke="#74ad8c" stroke-width="0.9" stroke-linejoin="round"/></g>
<g transform="translate(134.1,504.5) rotate(90.0)"><rect x="0" y="-2" width="19" height="4" rx="1.5" fill="#a3d5b6" stroke="#74ad8c" stroke-width="0.9"/><rect x="18" y="-5" width="12" height="10" rx="1.5" fill="#cde9d9" stroke="#74ad8c" stroke-width="0.9"/><path d="M29.5 -6.5 L37 -6.5 L43 0 L37 6.5 L29.5 6.5 Z" fill="#cde9d9" stroke="#74ad8c" stroke-width="0.9" stroke-linejoin="round"/></g>
<line x1="58.7" y1="367.3" x2="57.4" y2="352.4" stroke="#a277b4" stroke-width="4.4" stroke-linecap="round"/><line x1="58.7" y1="367.3" x2="57.4" y2="352.4" stroke="#d9bde2" stroke-width="2.6" stroke-linecap="round"/><line x1="57.8" y1="368.5" x2="43.2" y2="371.9" stroke="#a277b4" stroke-width="4.4" stroke-linecap="round"/><line x1="57.8" y1="368.5" x2="43.2" y2="371.9" stroke="#d9bde2" stroke-width="2.6" stroke-linecap="round"/><line x1="79.0" y1="383.0" x2="58.8" y2="368.3" stroke="#a277b4" stroke-width="6.6" stroke-linecap="round"/><line x1="79.0" y1="383.0" x2="58.8" y2="368.3" stroke="#d9bde2" stroke-width="4.8" stroke-linecap="round"/><line x1="79.0" y1="383.0" x2="58.8" y2="368.3" stroke="#f3e6f6" stroke-width="0.9" stroke-dasharray="1.6 1.8" opacity="0.9"/>
<line x1="68.8" y1="508.9" x2="53.8" y2="508.6" stroke="#a277b4" stroke-width="4.4" stroke-linecap="round"/><line x1="68.8" y1="508.9" x2="53.8" y2="508.6" stroke="#d9bde2" stroke-width="2.6" stroke-linecap="round"/><line x1="70.0" y1="509.9" x2="72.3" y2="524.7" stroke="#a277b4" stroke-width="4.4" stroke-linecap="round"/><line x1="70.0" y1="509.9" x2="72.3" y2="524.7" stroke="#d9bde2" stroke-width="2.6" stroke-linecap="round"/><line x1="87.0" y1="489.4" x2="69.8" y2="508.9" stroke="#a277b4" stroke-width="6.6" stroke-linecap="round"/><line x1="87.0" y1="489.4" x2="69.8" y2="508.9" stroke="#d9bde2" stroke-width="4.8" stroke-linecap="round"/><line x1="87.0" y1="489.4" x2="69.8" y2="508.9" stroke="#f3e6f6" stroke-width="0.9" stroke-dasharray="1.6 1.8" opacity="0.9"/>
<line x1="203.4" y1="488.0" x2="209.3" y2="502.9" stroke="#a277b4" stroke-width="4.4" stroke-linecap="round"/><line x1="203.4" y1="488.0" x2="209.3" y2="502.9" stroke="#d9bde2" stroke-width="2.6" stroke-linecap="round"/><line x1="204.0" y1="486.7" x2="218.7" y2="480.3" stroke="#a277b4" stroke-width="4.4" stroke-linecap="round"/><line x1="204.0" y1="486.7" x2="218.7" y2="480.3" stroke="#d9bde2" stroke-width="2.6" stroke-linecap="round"/><line x1="180.9" y1="477.9" x2="203.1" y2="487.1" stroke="#a277b4" stroke-width="6.6" stroke-linecap="round"/><line x1="180.9" y1="477.9" x2="203.1" y2="487.1" stroke="#d9bde2" stroke-width="4.8" stroke-linecap="round"/><line x1="180.9" y1="477.9" x2="203.1" y2="487.1" stroke="#f3e6f6" stroke-width="0.9" stroke-dasharray="1.6 1.8" opacity="0.9"/>

<!-- ===== label boxes ===== -->
<rect x="685.5" y="244.5" width="106.5" height="30" fill="#fcedd7" stroke="#d6c9ad" stroke-width="1"/>
<text x="700.2" y="264.8" class="b" textLength="76.3" lengthAdjust="spacingAndGlyphs">Macrophage</text>
<rect x="687.5" y="488.5" width="69.5" height="30.5" fill="#fcedd7" stroke="#d6c9ad" stroke-width="1"/>
<text x="706" y="508.4" class="b" textLength="31.8" lengthAdjust="spacingAndGlyphs">T cell</text>
<rect x="156.5" y="507" width="104.5" height="31" fill="#ebe5d5" stroke="#cdc4ab" stroke-width="1"/>
<text x="174.3" y="527.2" class="b" textLength="67.6" lengthAdjust="spacingAndGlyphs">Cancer cell</text>
<rect x="660.5" y="693.5" width="119.5" height="30.5" fill="#fcedd7" stroke="#d6c9ad" stroke-width="1"/>
<text x="679.1" y="712.8" class="b" textLength="79.5" lengthAdjust="spacingAndGlyphs">Dendritic cell</text>

<!-- ===== labels ===== -->
<g class="t">
<text x="496.8" y="131.7" textLength="61.2" lengthAdjust="spacingAndGlyphs">LRP/CD91</text>
<text x="723.2" y="134.3" textLength="36" lengthAdjust="spacingAndGlyphs">SIRPα</text>
<text x="296" y="248.3" textLength="32" lengthAdjust="spacingAndGlyphs">CD47</text>
<text x="414" y="301.5" textLength="70.8" lengthAdjust="spacingAndGlyphs">Neoantigen</text>
<text x="425" y="318" textLength="43" lengthAdjust="spacingAndGlyphs">HMGB1</text>
<text x="435.5" y="332.6" textLength="31" lengthAdjust="spacingAndGlyphs">TGFβ</text>
<text x="669" y="303.2" textLength="36.5" lengthAdjust="spacingAndGlyphs">MHC-I</text>
<text x="669" y="324.3" textLength="25" lengthAdjust="spacingAndGlyphs">TCR</text>
<text x="161" y="330" textLength="36.5" lengthAdjust="spacingAndGlyphs">MHC-I</text>
<text x="276" y="350.5" textLength="68" lengthAdjust="spacingAndGlyphs">Calreticulin</text>
<text x="518" y="353" textLength="27" lengthAdjust="spacingAndGlyphs">CD8</text>
<text x="772.2" y="353.3" textLength="76" lengthAdjust="spacingAndGlyphs">Anti-CTLA-4</text>
<text x="716.3" y="387.6" textLength="46" lengthAdjust="spacingAndGlyphs">CTLA-4</text>
<text x="344.1" y="437.7" textLength="33" lengthAdjust="spacingAndGlyphs">cGAS</text>
<text x="416.5" y="435.8" textLength="21" lengthAdjust="spacingAndGlyphs">IFN</text>
<text x="236.5" y="450.4" textLength="57.5" lengthAdjust="spacingAndGlyphs">Radiation</text>
<text x="347.3" y="469.8" textLength="36.2" lengthAdjust="spacingAndGlyphs">STING</text>
<text x="522.8" y="485.6" textLength="28" lengthAdjust="spacingAndGlyphs">PD-1</text>
<text x="466.8" y="498.4" textLength="34" lengthAdjust="spacingAndGlyphs">PD-L1</text>
<text x="529.7" y="525" textLength="33" lengthAdjust="spacingAndGlyphs">CD28</text>
<text x="605.4" y="530.8" textLength="24" lengthAdjust="spacingAndGlyphs">TCR</text>
<text x="38" y="531" textLength="33" lengthAdjust="spacingAndGlyphs">CD47</text>
<text x="664.5" y="548.5" textLength="36" lengthAdjust="spacingAndGlyphs">MHC-I</text>
<text x="533.6" y="551.5" textLength="16" lengthAdjust="spacingAndGlyphs">B7</text>
<text x="438" y="561" textLength="62.5" lengthAdjust="spacingAndGlyphs">anti-PD-L1</text>
<text x="117" y="565.5" textLength="34" lengthAdjust="spacingAndGlyphs">PD-L1</text>
<text x="299" y="598.3" textLength="93" lengthAdjust="spacingAndGlyphs">Cancer-specific</text>
<text x="340" y="614.5" textLength="52.3" lengthAdjust="spacingAndGlyphs">peptides</text>
</g>
<!-- copyright & caption fragments -->
<text x="615.3" y="756" font-size="11.5" fill="#555" textLength="241" lengthAdjust="spacingAndGlyphs">© 2018 American Association for Cancer Research</text>
<text x="857" y="756" font-size="11.5" fill="#555">.</text>
<text x="149" y="762.5" font-size="14.5" font-weight="bold" fill="#222">Download high-res image</text>
<g fill="#9aa0c8"><rect x="299" y="752" width="6" height="2"/><rect x="423.5" y="752" width="1.6" height="2"/><rect x="455.5" y="752" width="1.6" height="2"/><rect x="469.5" y="752" width="1.6" height="2"/><rect x="483.5" y="752" width="1.6" height="2"/></g>
<rect x="700" y="752" width="2.5" height="2" fill="#222"/>
<rect x="743" y="752" width="2.5" height="2" fill="#222"/>
<!-- watermark -->
<g>
<path d="M755.5 702 C748.5 702 744.5 706.5 744.5 711.5 C744.5 714.5 746 716.8 748.5 718.5 L747.5 722 L751.5 720 C752.8 720.4 754.2 720.6 755.5 720.6 C762.5 720.6 766.5 716.3 766.5 711.3 C766.5 706.3 762.5 702 755.5 702 Z" fill="#fff" fill-opacity="0.96" stroke="#8a8a8a" stroke-width="0.8"/>
<circle cx="751.6" cy="708.2" r="1" fill="#555"/><circle cx="759" cy="708.2" r="1" fill="#888"/>
<path d="M767.5 708.5 C761.8 708.5 757.2 712.4 757.2 717.4 C757.2 722.4 761.8 726.3 767.5 726.3 C768.6 726.3 769.7 726.1 770.7 725.8 L774.3 727.6 L773.5 724.4 C776.2 722.8 778 720.2 778 717.4 C778 712.4 773.3 708.5 767.5 708.5 Z" fill="#fff" fill-opacity="0.96" stroke="#8a8a8a" stroke-width="0.8"/>
<circle cx="764" cy="714.5" r="0.9" fill="#777"/><circle cx="771" cy="714.5" r="0.9" fill="#777"/>
<text x="786.6" y="725.5" font-size="21" fill="#fcfcfc" stroke="#6a6a6a" stroke-width="0.5" textLength="30" lengthAdjust="spacingAndGlyphs">VIP</text>
<defs><path id="shuo" d="M819.3 710 L821.3 712.2 M818.3 716 L821 716 L821 724 L823.2 722 M826 709 L827.6 711.4 M833.6 709 L832 711.4 M825.6 713 L834 713 L834 718 L825.6 718 Z M828 718 L827.6 722 L824.3 725.8 M831.6 718 L831.6 724.6 L835.6 724.6 L835.6 722.4"/></defs>
<g fill="none" stroke-linecap="round" stroke-linejoin="round">
<use href="#shuo" stroke="#6a6a6a" stroke-width="1.9"/>
<use href="#shuo" stroke="#fafafa" stroke-width="0.7"/>
</g>
</g>

</svg>
</body></html>
